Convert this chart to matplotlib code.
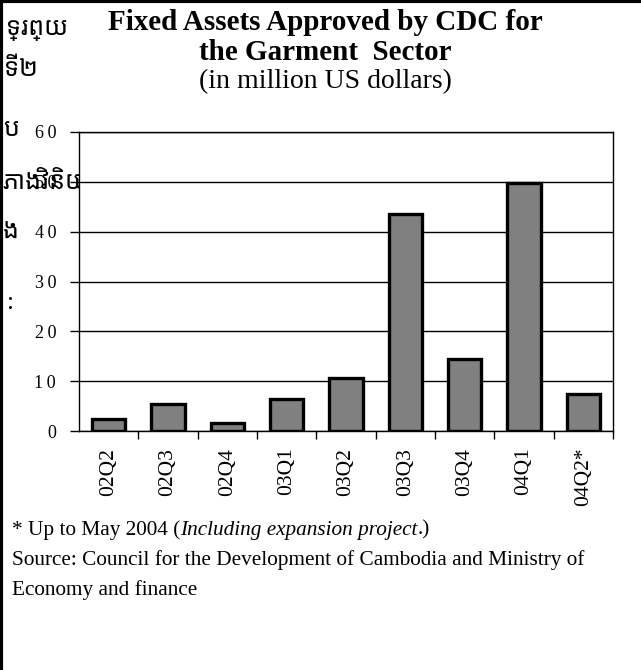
import matplotlib.pyplot as plt
from matplotlib.lines import Line2D

quarters = ['02Q2', '02Q3', '02Q4', '03Q1', '03Q2', '03Q3', '03Q4', '04Q1', '04Q2*']
assets = [2.5, 5.5, 1.7, 6.5, 10.7, 43.5, 14.4, 49.8, 7.5]
y_ticks = [0, 10, 20, 30, 40, 50, 60]
khmer_bits = ['ទ្រព្យ', 'ទី២', 'ប', 'ភាងវិនិយោ', 'ង', ':']
khmer_x = [6, 4, 3, 2, 3, 7]
khmer_y = [30, 70, 130, 183, 233, 303]

plt.rcParams['font.family'] = ['Liberation Serif', 'Noto Sans Khmer', 'Noto Sans', 'DejaVu Sans']

fig = plt.figure(figsize=(6.41, 6.70), dpi=100)

# leftover text from the page behind the chart (partly hidden by the chart)
for txt, xx, yy in zip(khmer_bits, khmer_x, khmer_y):
    fig.text(xx/641, 1 - yy/670, txt, fontsize=18, ha='left', va='center', zorder=-1)

ax = fig.add_axes([79/641, 1 - 431/670, 534/641, 299/670])
ax.bar(range(len(quarters)), assets, width=0.56, color='#808080',
       edgecolor='black', linewidth=2.4, zorder=3)
ax.set_xlim(-0.5, len(quarters) - 0.5)
ax.set_ylim(0, 60)
ax.set_yticks(y_ticks)
ax.set_yticklabels(['\u2009'.join(str(v)) for v in y_ticks], fontsize=13)
ax.yaxis.grid(True, color='black', linewidth=1)
ax.set_axisbelow(True)
ax.set_xticks([i + 0.5 for i in range(len(quarters) - 1)] + [len(quarters) - 0.5])
ax.set_xticklabels([])
ax.set_xticks(range(len(quarters)), minor=True)
ax.set_xticklabels(quarters, minor=True, rotation=90, fontsize=15.5)
ax.tick_params(axis='x', which='minor', length=0, pad=12)
ax.tick_params(axis='x', which='major', length=6, width=1, direction='out')
ax.tick_params(axis='y', length=6.5, width=1, direction='out', pad=10)
for s in ax.spines.values():
    s.set_linewidth(1)

fig.text(0.507, 1 - 22/670, 'Fixed Assets Approved by CDC for', fontsize=21,
         fontweight='bold', ha='center', va='center')
fig.text(0.507, 1 - 52/670, 'the Garment  Sector', fontsize=21,
         fontweight='bold', ha='center', va='center')
fig.text(0.507, 1 - 82/670, '(in million US dollars)', fontsize=20,
         ha='center', va='center')

fs = 15.3
t1 = fig.text(12/641, 1 - 530/670, '* Up to May 2004 (', fontsize=fs, va='center')
fig.canvas.draw()
r = fig.canvas.get_renderer()
x1 = t1.get_window_extent(r).x1 / fig.bbox.width
t2 = fig.text(x1, 1 - 530/670, 'Including expansion project', fontsize=fs,
              style='italic', va='center')
x2 = t2.get_window_extent(r).x1 / fig.bbox.width
fig.text(x2, 1 - 530/670, '.)', fontsize=fs, va='center')
fig.text(12/641, 1 - 560/670,
         'Source: Council for the Development of Cambodia and Ministry of',
         fontsize=fs, va='center')
fig.text(12/641, 1 - 590/670, 'Economy and finance', fontsize=fs, va='center')

# page border lines
fig.add_artist(Line2D([0.002, 0.002], [0, 1], color='black', linewidth=3))
fig.add_artist(Line2D([0, 1], [0.998, 0.998], color='black', linewidth=3))

fig.savefig('out.png', dpi=100)
